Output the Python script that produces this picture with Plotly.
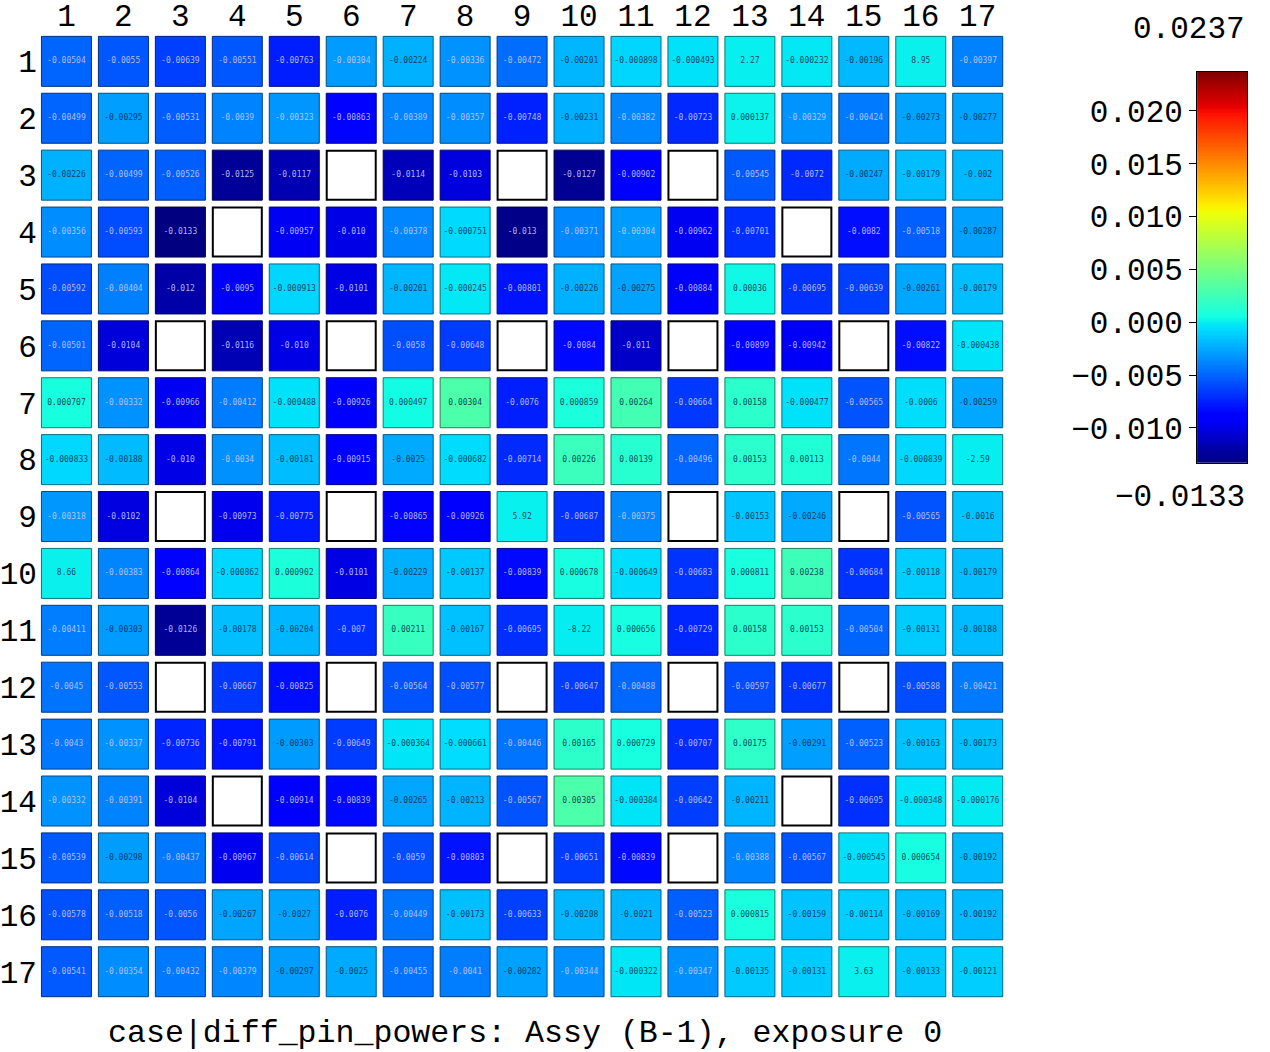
import numpy as np
import plotly.graph_objects as go

NaN = float("nan")

ROWS = list(range(1, 18))
COLS = list(range(1, 18))

# pin power differences (row-major, rows 1..17, cols 1..17); NaN = empty (guide tube) positions
PIN_DIFF = [
    [-0.00504, -0.0055, -0.00639, -0.00551, -0.00763, -0.00304, -0.00224, -0.00336, -0.00472, -0.00201, -0.000898, -0.000493, 2.27e-05, -0.000232, -0.00196, 8.95e-05, -0.00397],
    [-0.00499, -0.00295, -0.00531, -0.0039, -0.00323, -0.00863, -0.00389, -0.00357, -0.00748, -0.00231, -0.00382, -0.00723, 0.000137, -0.00329, -0.00424, -0.00273, -0.00277],
    [-0.00226, -0.00499, -0.00526, -0.0125, -0.0117, NaN, -0.0114, -0.0103, NaN, -0.0127, -0.00902, NaN, -0.00545, -0.0072, -0.00247, -0.00179, -0.002],
    [-0.00356, -0.00593, -0.0133, NaN, -0.00957, -0.010, -0.00378, -0.000751, -0.013, -0.00371, -0.00304, -0.00962, -0.00701, NaN, -0.0082, -0.00518, -0.00287],
    [-0.00592, -0.00404, -0.012, -0.0095, -0.000913, -0.0101, -0.00201, -0.000245, -0.00801, -0.00226, -0.00275, -0.00884, 0.00036, -0.00695, -0.00639, -0.00261, -0.00179],
    [-0.00501, -0.0104, NaN, -0.0116, -0.010, NaN, -0.0058, -0.00648, NaN, -0.0084, -0.011, NaN, -0.00899, -0.00942, NaN, -0.00822, -0.000438],
    [0.000707, -0.00332, -0.00966, -0.00412, -0.000488, -0.00926, 0.000497, 0.00304, -0.0076, 0.000859, 0.00264, -0.00664, 0.00158, -0.000477, -0.00565, -0.0006, -0.00259],
    [-0.000833, -0.00188, -0.010, -0.0034, -0.00181, -0.00915, -0.0025, -0.000682, -0.00714, 0.00226, 0.00139, -0.00496, 0.00153, 0.00113, -0.0044, -0.000839, -2.59e-05],
    [-0.00318, -0.0102, NaN, -0.00973, -0.00775, NaN, -0.00865, -0.00926, 5.92e-05, -0.00687, -0.00375, NaN, -0.00153, -0.00246, NaN, -0.00565, -0.0016],
    [8.66e-05, -0.00383, -0.00864, -0.000862, 0.000902, -0.0101, -0.00229, -0.00137, -0.00839, 0.000678, -0.000649, -0.00683, 0.000811, 0.00238, -0.00684, -0.00118, -0.00179],
    [-0.00411, -0.00303, -0.0126, -0.00178, -0.00204, -0.007, 0.00211, -0.00167, -0.00695, -8.22e-05, 0.000656, -0.00729, 0.00158, 0.00153, -0.00504, -0.00131, -0.00188],
    [-0.0045, -0.00553, NaN, -0.00667, -0.00825, NaN, -0.00564, -0.00577, NaN, -0.00647, -0.00488, NaN, -0.00597, -0.00677, NaN, -0.00588, -0.00421],
    [-0.0043, -0.00337, -0.00736, -0.00791, -0.00303, -0.00649, -0.000364, -0.000661, -0.00446, 0.00165, 0.000729, -0.00707, 0.00175, -0.00291, -0.00523, -0.00163, -0.00173],
    [-0.00332, -0.00391, -0.0104, NaN, -0.00914, -0.00839, -0.00265, -0.00213, -0.00567, 0.00305, -0.000384, -0.00642, -0.00211, NaN, -0.00695, -0.000348, -0.000176],
    [-0.00539, -0.00298, -0.00437, -0.00967, -0.00614, NaN, -0.0059, -0.00803, NaN, -0.00651, -0.00839, NaN, -0.00388, -0.00567, -0.000545, 0.000654, -0.00192],
    [-0.00578, -0.00518, -0.0056, -0.00267, -0.0027, -0.0076, -0.00449, -0.00173, -0.00633, -0.00208, -0.0021, -0.00523, 0.000815, -0.00159, -0.00114, -0.00169, -0.00192],
    [-0.00541, -0.00354, -0.00432, -0.00379, -0.00297, -0.0025, -0.00455, -0.0041, -0.00282, -0.00344, -0.000322, -0.00347, -0.00135, -0.00131, 3.63e-05, -0.00133, -0.00121],
]

VMIN, VMAX = -0.0133, 0.0237
CB_TICKS = [-0.010, -0.005, 0.000, 0.005, 0.010, 0.015, 0.020]
TITLE = "case|diff_pin_powers: Assy (B-1), exposure 0"

FONT = "Liberation Mono"
CELL_FONT = "DejaVu Sans Mono"
W, H = 1270, 1052

# ---- matplotlib-style jet colormap ----
_R = ([0, 0.35, 0.66, 0.89, 1], [0, 0, 1, 1, 0.5])
_G = ([0, 0.125, 0.375, 0.64, 0.91, 1], [0, 0, 1, 1, 0, 0])
_B = ([0, 0.11, 0.34, 0.65, 1], [0.5, 1, 1, 0, 0])


def jet(t, k=1.0):
    t = min(max(t, 0.0), 1.0)
    r = np.interp(t, *_R) * k
    g = np.interp(t, *_G) * k
    b = np.interp(t, *_B) * k
    return f"rgb({int(round(r*255))},{int(round(g*255))},{int(round(b*255))})"


stops = sorted(set(_R[0] + _G[0] + _B[0]))
JET = [[s, jet(s)] for s in stops]


def fmt(v):
    s = f"{v:.3g}"
    if "e" in s:
        s = s.split("e")[0]
    if s == "-0.01":
        s = "-0.010"
    return s


xs, ys, vals, labels, borders, tcols = [], [], [], [], [], []
ex, ey = [], []
for i, r in enumerate(ROWS):
    for j, c in enumerate(COLS):
        v = PIN_DIFF[i][j]
        if np.isnan(v):
            ex.append(c)
            ey.append(r)
            continue
        xs.append(c)
        ys.append(r)
        vals.append(v)
        labels.append(fmt(v))
        t = (v - VMIN) / (VMAX - VMIN)
        borders.append(jet(t, 0.5))
        tcols.append("rgba(200,200,255,0.9)" if v < -0.003035 else "rgba(0,40,70,0.85)")

fig = go.Figure()

fig.add_trace(go.Scatter(
    x=xs, y=ys, mode="markers+text", text=labels,
    textposition="middle center",
    textfont=dict(family=CELL_FONT, size=8, color=tcols),
    marker=dict(symbol="square", size=50, color=vals, colorscale=JET,
                cmin=VMIN, cmax=VMAX, line=dict(color=borders, width=1)),
    hoverinfo="skip", showlegend=False,
))

fig.add_trace(go.Scatter(
    x=ex, y=ey, mode="markers",
    marker=dict(symbol="square", size=49, color="white",
                line=dict(color="black", width=2)),
    hoverinfo="skip", showlegend=False,
))

# colour bar drawn as a heatmap on its own axes (labels on the left)
cb_y = np.linspace(VMIN, VMAX, 300)
fig.add_trace(go.Heatmap(
    x=[0], y=cb_y, z=[[v] for v in cb_y], colorscale=JET, zmin=VMIN, zmax=VMAX,
    showscale=False, hoverinfo="skip", xaxis="x2", yaxis="y2",
))

GX = [37 / W, 1006 / W]
GY = [1 - 1000 / H, 1 - 30 / H]
CBX = [1197 / W, 1247 / W]
CBY = [1 - 461 / H, 1 - 69 / H]

fig.update_layout(
    width=W, height=H,
    margin=dict(l=0, r=0, t=0, b=0),
    paper_bgcolor="white", plot_bgcolor="white",
    font=dict(family=FONT, size=31, color="black"),
    showlegend=False,
    xaxis=dict(domain=GX, range=[0.5, 17.5], tickvals=COLS, side="top",
               showgrid=False, zeroline=False, showline=False, ticks="",
               tickfont=dict(size=31), fixedrange=True),
    yaxis=dict(domain=GY, range=[17.5, 0.5], tickvals=ROWS,
               showgrid=False, zeroline=False, showline=False, ticks="",
               tickfont=dict(size=31), fixedrange=True, ticklabelstandoff=0),
    xaxis2=dict(domain=CBX, anchor="y2", range=[-0.5, 0.5], showticklabels=False,
                showgrid=False, zeroline=False, showline=True, mirror=True,
                linecolor="black", linewidth=1, ticks=""),
    yaxis2=dict(domain=CBY, anchor="x2", range=[VMIN, VMAX], tickvals=CB_TICKS,
                tickformat=".3f", ticks="outside", ticklen=7, tickcolor="black",
                side="left", showgrid=False, zeroline=False, showline=True,
                mirror=True, linecolor="black", linewidth=1,
                tickfont=dict(size=31)),
    annotations=[
        dict(text=f"{VMAX:g}", xref="paper", yref="paper", x=CBX[1], y=CBY[1] + 42 / H,
             xanchor="right", yanchor="middle", showarrow=False, font=dict(size=31)),
        dict(text=f"\u2212{abs(VMIN):g}", xref="paper", yref="paper", x=CBX[1], y=CBY[0] - 35 / H,
             xanchor="right", yanchor="middle", showarrow=False, font=dict(size=31)),
        dict(text=TITLE, xref="paper", yref="paper", x=(GX[0] + GX[1]) / 2 + 3 / W, y=1 - 1033 / H,
             xanchor="center", yanchor="middle", showarrow=False, font=dict(size=31.6)),
    ],
)

fig.write_html("out.html", config={"displayModeBar": False},
               post_script="document.body.style.margin='0';")
